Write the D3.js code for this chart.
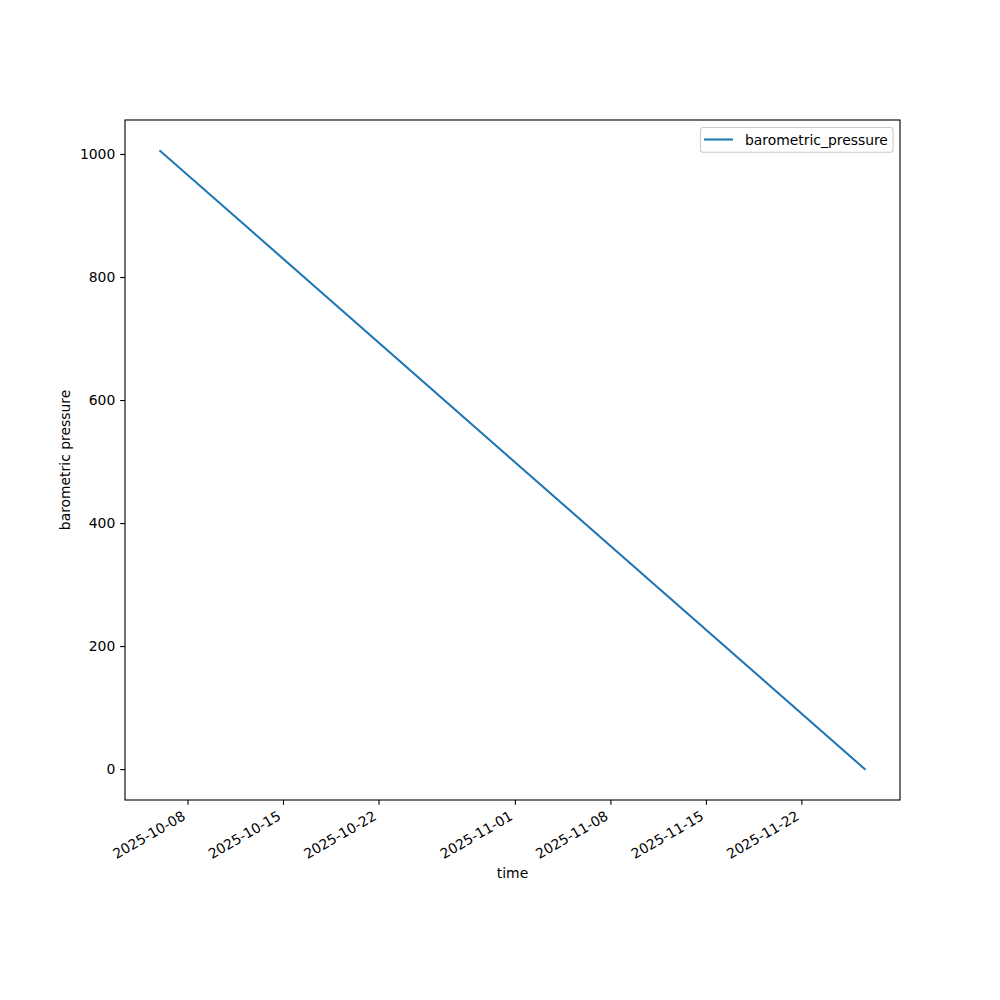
<!DOCTYPE html>
<html>
<head>
<meta charset="utf-8">
<script src="https://cdn.jsdelivr.net/npm/d3@7"></script>
<style>
  body { margin: 0; background: #fff; }
  svg { display: block; }
  text { font-family: "DejaVu Sans", sans-serif; }
</style>
</head>
<body>
<svg id="chart" width="1000" height="1000"></svg>
<script>
// ---- data ----
const times = ["2025-10-06T00:00:00", "2025-11-26T15:30:00"];
const pressure = [1005, 0];
const xTickDates = ["2025-10-08", "2025-10-15", "2025-10-22", "2025-11-01", "2025-11-08", "2025-11-15", "2025-11-22"];
const yTicks = [0, 200, 400, 600, 800, 1000];
const seriesName = "barometric_pressure";
const xLabel = "time";
const yLabel = "barometric pressure";

// ---- layout ----
const svg = d3.select("#chart");
const L = 125, R = 900, T = 120, B = 800;
const fs = 13.9;
const parse = d3.utcParse("%Y-%m-%dT%H:%M:%S");
const parseDay = d3.utcParse("%Y-%m-%d");
const data = times.map((t, i) => ({ t: parse(t), v: pressure[i] }));

const tExt = d3.extent(data, d => d.t);
const span = tExt[1] - tExt[0];
const x = d3.scaleUtc()
  .domain([new Date(+tExt[0] - 0.05 * span), new Date(+tExt[1] + 0.05 * span)])
  .range([L, R]);
const vExt = d3.extent(data, d => d.v);
const vs = vExt[1] - vExt[0];
const y = d3.scaleLinear()
  .domain([vExt[0] - 0.05 * vs, vExt[1] + 0.05 * vs])
  .range([B, T]);

// line
svg.append("path")
  .datum(data)
  .attr("fill", "none")
  .attr("stroke", "#1f77b4")
  .attr("stroke-width", 2.08)
  .attr("stroke-linecap", "square")
  .attr("d", d3.line().x(d => x(d.t)).y(d => y(d.v)));

// spines
svg.append("rect")
  .attr("x", L).attr("y", T).attr("width", R - L).attr("height", B - T)
  .attr("fill", "none").attr("stroke", "#000").attr("stroke-width", 1.11);

// x axis
const xAxis = d3.axisBottom(x)
  .tickValues(xTickDates.map(parseDay))
  .tickSize(4.86).tickPadding(0)
  .tickFormat(d3.utcFormat("%Y-%m-%d"));
const gx = svg.append("g").attr("transform", `translate(0,${B})`).call(xAxis);
gx.select(".domain").remove();
gx.selectAll(".tick line").attr("stroke", "#000").attr("stroke-width", 1.11);
const asc = 0.76 * fs, desc = 0.24 * fs;
gx.selectAll(".tick text")
  .attr("font-size", fs)
  .attr("fill", "#000")
  .attr("text-anchor", "end")
  .attr("dy", null)
  .attr("y", null)
  .attr("transform", `translate(${-0.5 * desc},${4.86 + 4.86 + 0.866 * asc}) rotate(-30)`);

// y axis
const yAxis = d3.axisLeft(y).tickValues(yTicks).tickSize(4.86).tickPadding(4.86)
  .tickFormat(d3.format("d"));
const gy = svg.append("g").attr("transform", `translate(${L},0)`).call(yAxis);
gy.select(".domain").remove();
gy.selectAll(".tick line").attr("stroke", "#000").attr("stroke-width", 1.11);
gy.selectAll(".tick text").attr("font-size", fs).attr("fill", "#000");

// axis labels
svg.append("text")
  .attr("x", (L + R) / 2).attr("y", 878)
  .attr("text-anchor", "middle").attr("font-size", fs).attr("fill", "#000")
  .text(xLabel);
svg.append("text")
  .attr("transform", `translate(70,${(T + B) / 2}) rotate(-90)`)
  .attr("text-anchor", "middle").attr("font-size", fs).attr("fill", "#000")
  .text(yLabel);

// legend
const lg = svg.append("g");
lg.append("rect")
  .attr("x", 700.5).attr("y", 127.5).attr("width", 192.5).attr("height", 24.8)
  .attr("rx", 2.8).attr("ry", 2.8)
  .attr("fill", "#fff").attr("fill-opacity", 0.8)
  .attr("stroke", "#cccccc").attr("stroke-width", 1.11);
lg.append("line")
  .attr("x1", 704).attr("x2", 733).attr("y1", 139.5).attr("y2", 139.5)
  .attr("stroke", "#1f77b4").attr("stroke-width", 2.08);
lg.append("text")
  .attr("x", 745).attr("y", 139.8).attr("dy", "0.35em")
  .attr("font-size", fs).attr("fill", "#000")
  .text(seriesName);
</script>
</body>
</html>
